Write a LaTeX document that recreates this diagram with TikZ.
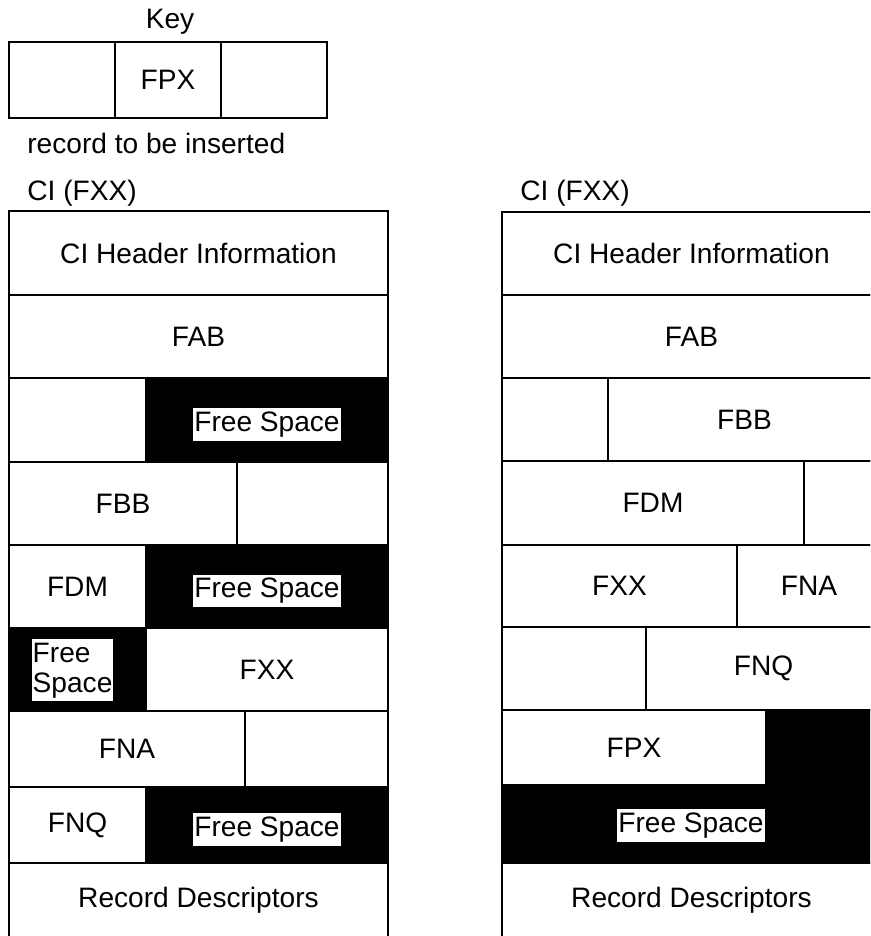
\documentclass[tikz,border=0pt]{standalone}
\usepackage{fontspec}
\setmainfont{Liberation Sans}

\tikzset{
  freebox/.style={fill=black,draw=black},
  freelbl/.style={fill=white,inner xsep=0.5pt,inner ysep=2pt,yshift=-2.5pt},
}

\begin{document}
\begin{tikzpicture}[x=0.02cm,y=-0.02cm,font=\fontsize{16}{17}\selectfont,line width=0.6pt]
    \useasboundingbox (0,0) rectangle (870,936);
    \clip (0,0) rectangle (870,936);

    % Key
    \node (key) at (170,22) {Key};
    \draw (9,42) rectangle (115,118);
    \draw (115,42) rectangle node (keyfpx) {FPX} (221,118);
    \draw (221,42) rectangle (327,118);
    \node[anchor=west] (insert) at (21,143) {record to be inserted};

    % CI before insertion
    \node[anchor=west] (ciL) at (21,193) {CI (FXX)};
    \draw (9,211) rectangle node (hdrL) {CI Header Information} (388,295);
    \draw (9,295) rectangle node (fabL) {FAB} (388,378);
    \draw (9,378) rectangle (146,462);
    \draw[freebox] (146,378) rectangle node[freelbl] (freeA) {Free Space} (388,462);
    \draw (9,462) rectangle node (fbbL) {FBB} (237,545);
    \draw (237,462) rectangle (388,545);
    \draw (9,545) rectangle node (fdmL) {FDM} (146,628);
    \draw[freebox] (146,545) rectangle node[freelbl] (freeB) {Free Space} (388,628);
    \draw[freebox] (9,628) rectangle node[freelbl,align=left,yshift=2pt,xshift=-2.8pt] (freeC) {Free\\Space} (146,711);
    \draw (146,628) rectangle node (fxxL) {FXX} (388,711);
    \draw (9,711) rectangle node (fnaL) {FNA} (245,787);
    \draw (245,711) rectangle (388,787);
    \draw (9,787) rectangle node (fnqL) {FNQ} (146,863);
    \draw[freebox] (146,787) rectangle node[freelbl] (freeD) {Free Space} (388,863);
    \draw (9,863) rectangle node (rdL) {Record Descriptors} (388,938);

    % CI after insertion
    \node[anchor=west] (ciR) at (514,193) {CI (FXX)};
    \draw (502,212) rectangle node (hdrR) {CI Header Information} (881,295);
    \draw (502,295) rectangle node (fabR) {FAB} (881,378);
    \draw (502,378) rectangle (608,461);
    \draw (608,378) rectangle node (fbbR) {FBB} (881,461);
    \draw (502,461) rectangle node (fdmR) {FDM} (804,545);
    \draw (804,461) rectangle (881,545);
    \draw (502,545) rectangle node (fxxR) {FXX} (737,627);
    \draw (737,545) rectangle node (fnaR) {FNA} (881,627);
    \draw (502,627) rectangle (646,710);
    \draw (646,627) rectangle node (fnqR) {FNQ} (881,710);
    \draw[freebox] (766,710) -- (881,710) -- (881,863) -- (502,863) -- (502,785) -- (766,785) -- cycle;
    \draw (502,710) rectangle node (fpxR) {FPX} (766,785);
    \node[freelbl] (freeR) at (691,821) {Free Space};
    \draw (502,863) rectangle node (rdR) {Record Descriptors} (881,938);
\end{tikzpicture}
\end{document}
